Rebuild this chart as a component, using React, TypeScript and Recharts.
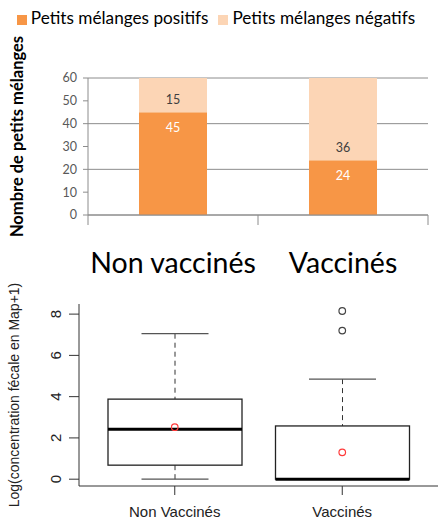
import {
  BarChart,
  Bar,
  XAxis,
  YAxis,
  CartesianGrid,
  Legend,
  LabelList,
  ComposedChart,
  Scatter,
} from "recharts";

// top panel: counts of "petits mélanges"
const groups = ["Non vaccinés", "Vaccinés"];
const positifs = [45, 24];
const negatifs = [15, 36];
const countTicks = [0, 10, 20, 30, 40, 50, 60];
const seriesNames = ["Petits mélanges positifs", "Petits mélanges négatifs"];

// bottom panel: boxplot of log faecal concentration
const boxGroups = ["Non Vaccinés", "Vaccinés"];
const boxMin = [0, 0];
const boxQ1 = [0.68, 0];
const boxMedian = [2.42, 0];
const boxQ3 = [3.88, 2.58];
const boxMax = [7.05, 4.85];
const boxMean = [2.52, 1.3];
const boxOutliers = [[], [8.15, 7.2]];
const logTicks = [0, 2, 4, 6, 8];

const ORANGE = "#F79646";
const PEACH = "#FCD5B5";
const GRID = "#8c8c8c";
const XL_FONT = "Lato, 'Open Sans', sans-serif";
const R_FONT = "'Liberation Sans', Arial, sans-serif";

const barData = groups.map((name, i) => ({
  name,
  positifs: positifs[i],
  negatifs: negatifs[i],
}));

const boxData = boxGroups.map((name, i) => ({
  name,
  min: boxMin[i],
  q1: boxQ1[i],
  median: boxMedian[i],
  q3: boxQ3[i],
  max: boxMax[i],
}));

const meanPoints = boxGroups.map((name, i) => ({ name, value: boxMean[i] }));
const outlierPoints = boxGroups.flatMap((name, i) =>
  boxOutliers[i].map((value) => ({ name, value }))
);

const AxisTitle = (props: any) => {
  const { viewBox, text, baseX, shiftY, fontSize, fontWeight, fontFamily, fill } = props;
  const cx = viewBox.x + baseX;
  const cy = viewBox.y + viewBox.height / 2 + shiftY;
  return (
    <text
      x={cx}
      y={cy}
      transform={`rotate(-90, ${cx}, ${cy})`}
      textAnchor="middle"
      fontSize={fontSize}
      fontWeight={fontWeight}
      fontFamily={fontFamily}
      fill={fill}
    >
      {text}
    </text>
  );
};

// category label + Excel style tick marks between categories
const CategoryTick = (props: any) => {
  const { x, y, payload, index, visibleTicksCount, width } = props;
  const half = payload.offset || width / visibleTicksCount / 2;
  const last = index === visibleTicksCount - 1;
  return (
    <g>
      <line x1={x - half} x2={x - half} y1={y} y2={y + 10} stroke={GRID} />
      {last && <line x1={x + half} x2={x + half} y1={y} y2={y + 10} stroke={GRID} />}
      <text x={x} y={y + 58} textAnchor="middle" fontSize={28.5} fontFamily={XL_FONT} fill="#000">
        {payload.value}
      </text>
    </g>
  );
};

const RotatedTick = (props: any) => {
  const { x, y, payload } = props;
  return (
    <text
      x={x}
      y={y}
      transform={`rotate(-90, ${x}, ${y})`}
      textAnchor="middle"
      fontSize={15}
      fontFamily={R_FONT}
      fill="#222"
    >
      {payload.value}
    </text>
  );
};

const BoxShape = (props: any) => {
  const { x, y, width, height, payload } = props;
  const unit = height / (payload.max - payload.min);
  const py = (v: number) => y + height - (v - payload.min) * unit;
  const cx = x + width / 2;
  const cap = width / 4;
  return (
    <g>
      <line x1={cx} x2={cx} y1={py(payload.max)} y2={py(payload.q3)} stroke="#333" strokeDasharray="5 4" />
      <line x1={cx} x2={cx} y1={py(payload.q1)} y2={py(payload.min)} stroke="#333" strokeDasharray="5 4" />
      <line x1={cx - cap} x2={cx + cap} y1={py(payload.max)} y2={py(payload.max)} stroke="#555" strokeWidth={1.3} />
      <line x1={cx - cap} x2={cx + cap} y1={py(payload.min)} y2={py(payload.min)} stroke="#555" strokeWidth={1.3} />
      <rect
        x={x}
        y={py(payload.q3)}
        width={width}
        height={py(payload.q1) - py(payload.q3)}
        fill="#fff"
        stroke="#222"
        strokeWidth={1.3}
      />
      <line x1={x} x2={x + width} y1={py(payload.median)} y2={py(payload.median)} stroke="#000" strokeWidth={3} />
    </g>
  );
};

const MeanDot = (props: any) => (
  <circle cx={props.cx} cy={props.cy} r={3.3} fill="none" stroke="#ff3b3b" strokeWidth={1.2} />
);

const OutlierDot = (props: any) => (
  <circle cx={props.cx} cy={props.cy} r={3.3} fill="none" stroke="#444" strokeWidth={1.2} />
);

export default function App() {
  return (
    <div style={{ position: "absolute", left: 0, top: 0, width: 439, height: 520, background: "#fff" }}>
      <div style={{ position: "absolute", left: 0, top: 0 }}>
        <BarChart
          width={439}
          height={285}
          data={barData}
          margin={{ top: 57, right: 11, bottom: 0, left: 0 }}
        >
          <Legend
            verticalAlign="top"
            align="center"
            iconType="square"
            iconSize={10}
            itemSorter={(item: any) => seriesNames.indexOf(item.value)}
            wrapperStyle={{ top: 7, left: 7, fontFamily: XL_FONT, fontSize: 17.2 }}
            formatter={(value: string) => <span style={{ color: "#000" }}>{value}</span>}
          />
          <CartesianGrid vertical={false} stroke={GRID} />
          <XAxis
            dataKey="name"
            height={70}
            tickSize={0}
            tickMargin={0}
            tickLine={false}
            axisLine={{ stroke: GRID }}
            tick={<CategoryTick />}
          />
          <YAxis
            width={88}
            domain={[0, 60]}
            ticks={countTicks}
            tickSize={5}
            tickMargin={6}
            axisLine={{ stroke: GRID }}
            tickLine={{ stroke: GRID }}
            tick={{ fontSize: 12.5, fill: "#595959", fontFamily: XL_FONT }}
            label={
              <AxisTitle
                text="Nombre de petits mélanges"
                baseX={23}
                shiftY={-10}
                fontSize={16.5}
                fontWeight="bold"
                fontFamily={XL_FONT}
                fill="#000"
              />
            }
          />
          <Bar dataKey="positifs" name={seriesNames[0]} stackId="a" fill={ORANGE} barSize={68} isAnimationActive={false}>
            <LabelList dataKey="positifs" position="insideTop" offset={11} fill="#fff" fontSize={12.5} fontFamily={XL_FONT} />
          </Bar>
          <Bar dataKey="negatifs" name={seriesNames[1]} stackId="a" fill={PEACH} barSize={68} isAnimationActive={false}>
            <LabelList dataKey="negatifs" position="insideBottom" offset={8} fill="#404040" fontSize={12.5} fontFamily={XL_FONT} />
          </Bar>
        </BarChart>
      </div>
      <div style={{ position: "absolute", left: 0, top: 280 }}>
        <ComposedChart
          width={439}
          height={240}
          data={boxData}
          margin={{ top: 24, right: 1, bottom: 0, left: 0 }}
        >
          <XAxis
            dataKey="name"
            allowDuplicatedCategory={false}
            height={34}
            padding={{ left: 12, right: 12 }}
            tickSize={9}
            tickMargin={11}
            axisLine={{ stroke: "#333" }}
            tickLine={{ stroke: "#333" }}
            tick={{ fontSize: 15, fill: "#222", fontFamily: R_FONT }}
          />
          <XAxis xAxisId="top" orientation="top" height={0} tick={false} tickLine={false} axisLine={{ stroke: "#333" }} />
          <YAxis
            width={79}
            type="number"
            domain={[-0.33, 8.49]}
            allowDataOverflow
            ticks={logTicks}
            tickSize={10}
            tickMargin={8}
            axisLine={{ stroke: "#333" }}
            tickLine={{ stroke: "#333" }}
            tick={<RotatedTick />}
            label={
              <AxisTitle
                text="Log(concentration fécale en Map+1)"
                baseX={19}
                shiftY={0}
                fontSize={14}
                fontWeight="normal"
                fontFamily={R_FONT}
                fill="#222"
              />
            }
          />
          <YAxis
            yAxisId="right"
            orientation="right"
            width={0}
            domain={[-0.33, 8.49]}
            tick={false}
            tickLine={false}
            axisLine={{ stroke: "#333" }}
          />
          <Bar
            dataKey={(d: any) => [d.min, d.max]}
            barSize={134}
            shape={<BoxShape />}
            isAnimationActive={false}
          />
          <Scatter data={meanPoints} dataKey="value" shape={<MeanDot />} isAnimationActive={false} />
          <Scatter data={outlierPoints} dataKey="value" shape={<OutlierDot />} isAnimationActive={false} />
        </ComposedChart>
      </div>
    </div>
  );
}
